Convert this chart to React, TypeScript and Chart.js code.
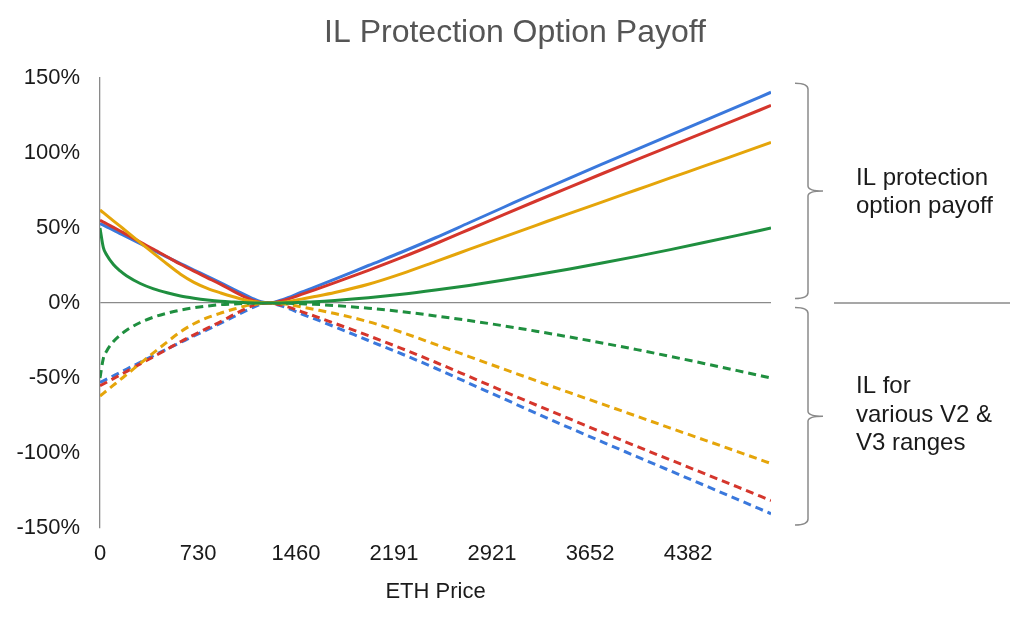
import React, { useEffect, useRef } from 'react';
import { Chart, registerables } from 'chart.js';

Chart.register(...registerables);

const TITLE = 'IL Protection Option Payoff';
const X_TITLE = 'ETH Price';
const TOP_LABEL = ['IL protection', 'option payoff'];
const BOTTOM_LABEL = ['IL for', 'various V2 &', 'V3 ranges'];

const X_TICKS = [0, 730.4, 1460.8, 2191.2, 2921.6, 3652, 4382.4];
const X_MAX = 5000;
const Y_MIN = -150;
const Y_MAX = 150;
const Y_STEP = 50;

const PRICES = [0, 25, 50, 100, 150, 200, 300, 400, 500, 600, 700, 800, 900, 1000, 1100, 1150, 1200, 1250, 1300, 1400, 1500, 1600, 1750, 2000, 2250, 2500, 2750, 3000, 3250, 3500, 3750, 4000, 4250, 4500, 4750, 5000];

const PAYOFF_BLUE = [53, 51.9, 50.8, 48.6, 46.3, 44, 39.5, 35, 30.6, 26.3, 22, 17.8, 13.5, 9, 4.6, 2.5, 0.8, 0, 0.6, 3.5, 7.2, 10.6, 15.9, 25, 34, 43.5, 53.5, 63.5, 73.5, 83.3, 92.9, 102.4, 111.9, 121.4, 130.9, 140.5];
const PAYOFF_RED = [55.2, 54, 52.8, 50.4, 48, 45.6, 40.6, 35.8, 30.8, 25.8, 21.2, 16.8, 12.4, 7.6, 3.2, 1.4, 0.4, 0, 0.4, 2.6, 5.7, 8.8, 13.6, 21.8, 30.4, 39.5, 49, 58.6, 68, 77.3, 86.5, 95.6, 104.6, 113.6, 122.6, 131.7];
const PAYOFF_YELLOW = [62, 60.2, 58.4, 54.8, 51.2, 47.6, 40.3, 33.1, 26, 19.2, 13.8, 9.8, 6.7, 4, 1.6, 0.9, 0.3, 0, 0.1, 0.9, 2.6, 4.3, 7, 12.5, 19.6, 27.6, 35.7, 43.8, 51.8, 59.8, 67.6, 75.5, 83.4, 91.2, 99.1, 107];
const PAYOFF_GREEN = [50, 36.9, 32, 25.7, 21.4, 18, 13, 9.4, 6.8, 4.7, 3.2, 2, 1.1, 0.6, 0.2, 0.08, 0.02, 0, 0.02, 0.17, 0.5, 0.86, 1.7, 3.5, 5.8, 8.6, 11.7, 15.1, 18.8, 22.7, 26.8, 31.1, 35.6, 40.3, 45.1, 50];

const IL_BLUE = [-53, -51.9, -50.8, -48.6, -46.3, -44, -39.5, -35, -30.6, -26.3, -22, -17.8, -13.5, -9, -4.6, -2.5, -0.8, 0, -0.6, -3.5, -7.2, -10.6, -15.9, -25, -34, -43.5, -53.5, -63.5, -73.5, -83.3, -92.9, -102.4, -111.9, -121.4, -130.9, -140.5];
const IL_RED = [-55.2, -54, -52.8, -50.4, -48, -45.6, -40.6, -35.8, -30.8, -25.8, -21.2, -16.8, -12.4, -7.6, -3.2, -1.4, -0.4, 0, -0.4, -2.6, -5.7, -8.8, -13.6, -21.8, -30.4, -39.5, -49, -58.6, -68, -77.3, -86.5, -95.6, -104.6, -113.6, -122.6, -131.7];
const IL_YELLOW = [-62, -60.2, -58.4, -54.8, -51.2, -47.6, -40.3, -33.1, -26, -19.2, -13.8, -9.8, -6.7, -4, -1.6, -0.9, -0.3, 0, -0.1, -0.9, -2.6, -4.3, -7, -12.5, -19.6, -27.6, -35.7, -43.8, -51.8, -59.8, -67.6, -75.5, -83.4, -91.2, -99.1, -107];
const IL_GREEN = [-50, -36.9, -32, -25.7, -21.4, -18, -13, -9.4, -6.8, -4.7, -3.2, -2, -1.1, -0.6, -0.2, -0.08, -0.02, 0, -0.02, -0.17, -0.5, -0.86, -1.7, -3.5, -5.8, -8.6, -11.7, -15.1, -18.8, -22.7, -26.8, -31.1, -35.6, -40.3, -45.1, -50];

const BLUE = '#3a78dc';
const RED = '#d5362c';
const YELLOW = '#e5a50a';
const GREEN = '#1f8f3f';
const AXIS = '#8a8a8a';
const TEXT = '#1a1a1a';
const FONT = '"Liberation Sans", Arial, sans-serif';

function series(label: string, values: number[], color: string, dashed: boolean, order: number) {
  return {
    label,
    data: PRICES.map((x, i) => ({ x, y: values[i] })),
    borderColor: color,
    backgroundColor: color,
    borderWidth: 3,
    borderDash: dashed ? [8, 5] : [],
    pointRadius: 0,
    fill: false,
    cubicInterpolationMode: 'monotone' as const,
    order,
  };
}

const annotations = {
  id: 'annotations',
  afterDraw(chart: any) {
    const { ctx, chartArea, scales } = chart;
    const ys = scales.y;
    const y0 = ys.getPixelForValue(0);
    ctx.save();
    // title
    ctx.fillStyle = '#555555';
    ctx.font = `32px ${FONT}`;
    ctx.textAlign = 'center';
    ctx.textBaseline = 'alphabetic';
    ctx.fillText(TITLE, 515, 42);
    // x axis title
    ctx.fillStyle = TEXT;
    ctx.font = `22px ${FONT}`;
    ctx.fillText(X_TITLE, (chartArea.left + chartArea.right) / 2, 598);

    // separator line on the right
    ctx.strokeStyle = AXIS;
    ctx.lineWidth = 1.3;
    ctx.beginPath();
    ctx.moveTo(chartArea.right + 63, y0);
    ctx.lineTo(1010, y0);
    ctx.stroke();

    const brace = (vTop: number, vBot: number) => {
      const top = ys.getPixelForValue(vTop);
      const bot = ys.getPixelForValue(vBot);
      const mid = (top + bot) / 2;
      const xL = chartArea.right + 24;
      const xV = chartArea.right + 37;
      const xT = chartArea.right + 52;
      ctx.beginPath();
      ctx.moveTo(xL, top);
      ctx.quadraticCurveTo(xV, top, xV, top + 6);
      ctx.lineTo(xV, mid - 5);
      ctx.quadraticCurveTo(xV, mid, xT, mid);
      ctx.quadraticCurveTo(xV, mid, xV, mid + 5);
      ctx.lineTo(xV, bot - 6);
      ctx.quadraticCurveTo(xV, bot, xL, bot);
      ctx.stroke();
    };
    ctx.lineWidth = 1.5;
    brace(146.5, 3);
    brace(-3, -148);

    ctx.fillStyle = TEXT;
    ctx.font = `24px ${FONT}`;
    ctx.textAlign = 'left';
    const tx = chartArea.right + 85;
    TOP_LABEL.forEach((t, i) => ctx.fillText(t, tx, 185 + i * 28.3));
    BOTTOM_LABEL.forEach((t, i) => ctx.fillText(t, tx, 393.3 + i * 28.3));
    ctx.restore();
  },
};

export default function App() {
  const ref = useRef<HTMLCanvasElement>(null);
  useEffect(() => {
    document.body.style.margin = '0';
    const canvas = ref.current;
    if (!canvas) return;
    const chart = new Chart(canvas, {
      type: 'line',
      data: {
        datasets: [
          series('Payoff V2', PAYOFF_GREEN, GREEN, false, 1),
          series('Payoff range C', PAYOFF_YELLOW, YELLOW, false, 2),
          series('Payoff range B', PAYOFF_RED, RED, false, 3),
          series('Payoff range A', PAYOFF_BLUE, BLUE, false, 4),
          series('IL V2', IL_GREEN, GREEN, true, 5),
          series('IL range C', IL_YELLOW, YELLOW, true, 6),
          series('IL range B', IL_RED, RED, true, 7),
          series('IL range A', IL_BLUE, BLUE, true, 8),
        ] as any,
      },
      options: {
        animation: false,
        responsive: false,
        maintainAspectRatio: false,
        layout: { padding: { left: 0, right: 253, top: 78, bottom: 0 } },
        plugins: {
          legend: { display: false },
          tooltip: { enabled: false },
          title: { display: false },
        },
        scales: {
          x: {
            type: 'linear',
            min: 0,
            max: X_MAX,
            afterBuildTicks: (scale: any) => {
              scale.ticks = X_TICKS.map((v) => ({ value: v }));
            },
            afterFit: (scale: any) => {
              scale.height = 93;
            },
            ticks: {
              autoSkip: false,
              maxRotation: 0,
              padding: 13,
              color: TEXT,
              font: { family: FONT, size: 22 },
              callback: (v: any) => String(Math.floor(Number(v))),
            },
            grid: { display: false, drawTicks: false },
            border: { display: false },
          },
          y: {
            type: 'linear',
            min: Y_MIN,
            max: Y_MAX,
            afterFit: (scale: any) => {
              scale.width = 100;
            },
            ticks: {
              stepSize: Y_STEP,
              padding: 20,
              color: TEXT,
              font: { family: FONT, size: 22 },
              callback: (v: any) => `${v}%`,
            },
            grid: {
              drawTicks: false,
              lineWidth: 1.3,
              color: (c: any) => (c.tick && c.tick.value === 0 ? AXIS : 'rgba(0,0,0,0)'),
            },
            border: { display: true, color: AXIS, width: 1.3 },
          },
        },
      } as any,
      plugins: [annotations],
    });
    return () => chart.destroy();
  }, []);
  return (
    <div style={{ position: 'absolute', left: 0, top: 0, width: 1024, height: 621, background: '#fff' }}>
      <canvas ref={ref} width={1024} height={621} style={{ display: 'block', width: 1024, height: 621 }} />
    </div>
  );
}
